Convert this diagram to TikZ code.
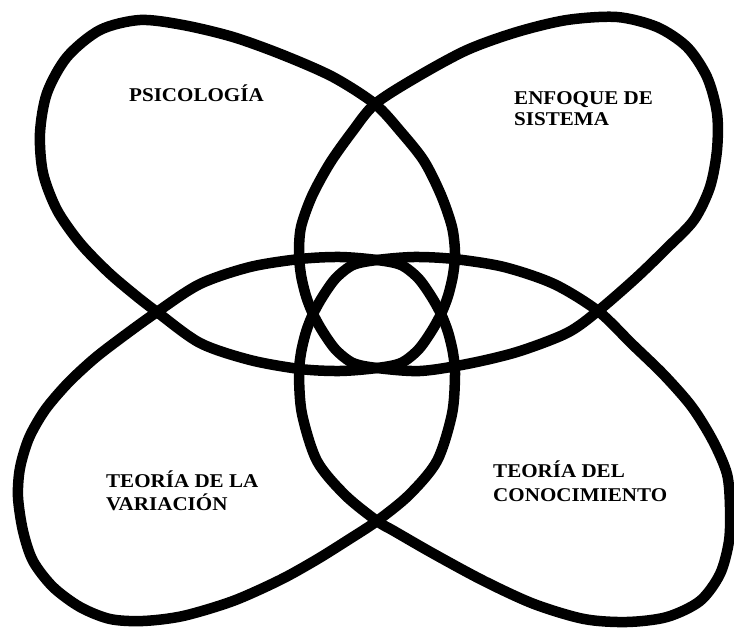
\documentclass[tikz,border=0pt]{standalone}
\usepackage{fontspec}
\newfontfamily\lblfont{Liberation Serif}[FakeStretch=1.08]
\begin{document}
\begin{tikzpicture}[x=1pt,y=-1pt,
  petal/.style={draw=black,line width=10.5pt,line join=round},
  lbl/.style={font=\lblfont\bfseries\fontsize{19.5}{23}\selectfont,inner sep=0pt,anchor=base west}]
\useasboundingbox (0,0) rectangle (734,628);
% top-left petal
\draw[petal] plot[smooth cycle] coordinates {
 (375,104) (333,77) (283,55) (233,37) (183,25) (140,20) (100,30) (67,57) (47,93) (40,133) (43,173) (57,210) (80,243) (108,272) (135,295) (157,312)
 (200,343) (250,360) (300,369) (340,371) (377,368)
 (401,363) (418,350) (431,332) (441,314) (448,296) (453,275) (455,253)
 (452,227) (441,195) (424,161) (401,132)};
% top-right petal
\draw[petal] plot[smooth cycle] coordinates {
 (375,104) (417,77) (467,50) (517,32) (567,20) (617,17) (657,27) (687,47) (707,77) (717,113) (717,150) (710,187) (694,220) (667,248) (636,278) (598,311)
 (567,333) (517,352) (467,364) (420,371) (377,368)
 (353,363) (336,350) (323,332) (313,314) (306,296) (301,275) (299,253)
 (301,227) (312,196) (330,163) (352,132)};
% bottom-left petal
\draw[petal] plot[smooth cycle] coordinates {
 (157,312) (200,284) (250,267) (300,259) (340,257) (377,260)
 (401,265) (418,278) (431,296) (441,314) (448,332) (453,353) (455,375)
 (452,414) (437,461) (409,495) (377,521)
 (348,540) (316,560) (280,580) (233,601) (183,616) (143,621) (110,619) (80,607) (53,587) (33,561) (23,531) (18,497) (20,468) (29,438) (45,410) (68,383) (95,358) (125,335)};
% bottom-right petal
\draw[petal] plot[smooth cycle] coordinates {
 (598,311) (554,284) (504,267) (454,259) (414,257) (377,260)
 (353,265) (336,278) (323,296) (313,314) (306,332) (301,353) (299,375)
 (302,414) (317,461) (345,495) (377,521)
 (394,531) (434,554) (484,581) (534,604) (584,619) (627,622) (667,617) (700,601) (720,574) (729,541) (730,507) (727,474) (713,441) (692,407) (664,375) (632,344)};
% labels
\node[lbl] (psi) at (129,102) {PSICOLOGÍA};
\node[lbl] (enf1) at (514,105) {ENFOQUE DE};
\node[lbl] (enf2) at (514,126) {SISTEMA};
\node[lbl] (var1) at (106,487) {TEORÍA DE LA};
\node[lbl] (var2) at (106,510) {VARIACIÓN};
\node[lbl] (con1) at (493,477) {TEORÍA DEL};
\node[lbl] (con2) at (493,501) {CONOCIMIENTO};
\end{tikzpicture}
\end{document}
